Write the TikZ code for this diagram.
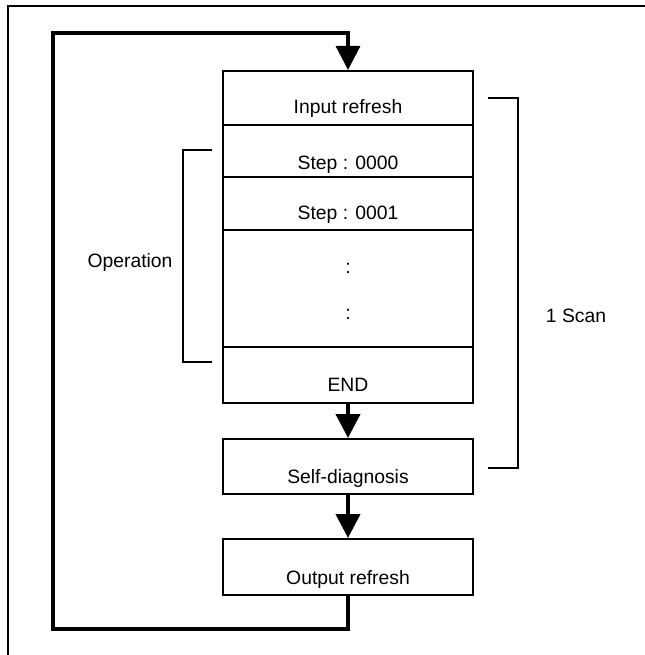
\documentclass[tikz,border=0pt]{standalone}
\usepackage{fontspec}
\setmainfont{Liberation Sans}
\usetikzlibrary{arrows.meta}

\begin{document}
\begin{tikzpicture}[x=0.75pt, y=-0.75pt,
        every node/.style={font=\fontsize{14.5pt}{17pt}\selectfont},
        row/.style={draw, line width=1.5pt, inner sep=0pt, minimum width=187.5pt, anchor=north},
        bracket/.style={line width=1.5pt},
        flow/.style={line width=3pt, -{Triangle[length=18pt,width=18pt]}},
        loopline/.style={line width=2.4pt, line join=miter, -{Triangle[length=18pt,width=18pt]}}]
        \useasboundingbox (0,0) rectangle (644,655);

        % frame
        \draw[line width=1.5pt] (8,660) -- (8,6) -- (650,6);

        % scan blocks
        \node[row, text height=32.25pt, text depth=8.25pt] (inref) at (348,70) {Input refresh};
        \node[row, text height=33.75pt, text depth=5.25pt] (step0) at (348,124) {Step : 0000};
        \node[row, text height=32.25pt, text depth=7.5pt] (step1) at (348,176) {Step : 0001};
        \node[row, minimum height=87.75pt] (dots) at (348,229) {};
        \node[anchor=base] (dotA) at (348,274) {:};
        \node[anchor=base] (dotB) at (348,320) {:};
        \node[row, text height=33pt, text depth=9pt] (endrow) at (348,346) {END};

        \node[row, text height=33pt, text depth=8.25pt] (selfdiag) at (348,438) {Self-diagnosis};
        \node[row, text height=33.75pt, text depth=8.25pt] (outref) at (348,538) {Output refresh};

        \draw[flow] (endrow.south) -- (selfdiag.north);
        \draw[flow] (selfdiag.south) -- (outref.north);

        % back to the start
        \coordinate (loopbot) at (53,629);
        \coordinate (looptop) at (53,33);
        \draw[loopline] (outref.south) |- (loopbot) -- (looptop) -| (inref.north);

        % brackets
        \draw[bracket] (212,150) -- (183,150) -- (183,362) -- (212,362);
        \node[anchor=base] (oper) at (130,268) {Operation};

        \draw[bracket] (488,98) -- (518,98) -- (518,468) -- (488,468);
        \node[anchor=base] (scan) at (576,322) {1 Scan};

    \end{tikzpicture}
\end{document}
